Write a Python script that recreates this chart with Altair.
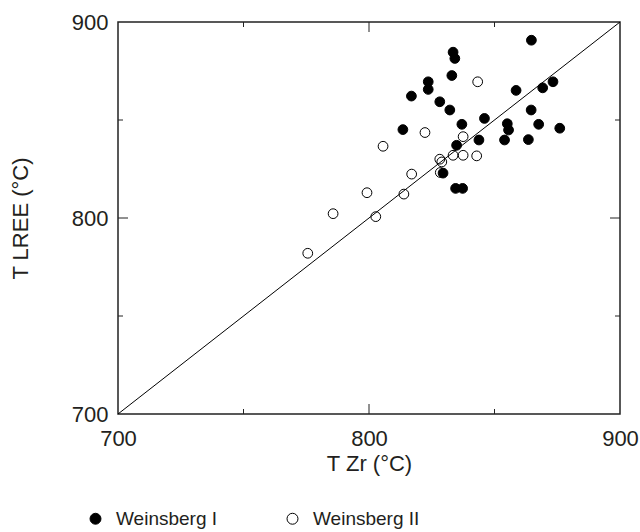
import altair as alt
import pandas as pd

# Weinsberg I (filled)
w1_x = [864.7, 833.5, 834.2, 833.0, 823.6, 823.6, 816.9, 828.2, 832.2, 858.6,
        869.2, 873.3, 864.6, 846.0, 837.0, 855.1, 855.6, 867.6, 876.0, 813.5,
        843.8, 854.0, 863.5, 834.9, 829.5, 834.5, 837.3]
w1_y = [890.7, 884.6, 881.4, 872.7, 869.5, 865.6, 862.2, 859.3, 855.1, 865.1,
        866.4, 869.5, 855.1, 850.8, 847.8, 848.1, 844.9, 847.8, 845.8, 845.1,
        839.8, 839.8, 840.0, 837.1, 822.9, 815.1, 815.1]
# Weinsberg II (open)
w2_x = [843.3, 822.3, 805.6, 837.5, 833.5, 837.5, 842.9, 828.2, 829.0, 817.0,
        828.4, 799.2, 813.9, 785.7, 802.7, 775.6]
w2_y = [869.5, 843.6, 836.6, 841.5, 832.0, 832.0, 831.7, 830.0, 828.6, 822.4,
        823.2, 812.9, 812.2, 802.2, 800.7, 782.0]

series_names = ["Weinsberg I", "Weinsberg II"]
label_ticks = [700, 800, 900]
minor_ticks = [750, 850]
major_ticks = [800]
diag = [700, 900]

pts = pd.DataFrame({
    "TZr": w2_x + w1_x,
    "TLREE": w2_y + w1_y,
    "series": [series_names[1]] * len(w2_x) + [series_names[0]] * len(w1_x),
})
diag_df = pd.DataFrame({"TZr": diag, "TLREE": diag})
minor_df = pd.DataFrame({"TZr": minor_ticks, "TLREE": minor_ticks})
major_df = pd.DataFrame({"TZr": major_ticks, "TLREE": major_ticks})

FONT = "Liberation Sans"
TXT = "#231f20"
xscale = alt.Scale(domain=[700, 900], nice=False, zero=False)
yscale = alt.Scale(domain=[700, 900], nice=False, zero=False)
xaxis = alt.Axis(values=label_ticks, title="T Zr (°C)", labelPadding=14,
                 titlePadding=4, labelFlush=False, labelBound=False)
yaxis = alt.Axis(values=label_ticks, title="T LREE (°C)", labelPadding=10,
                 titlePadding=39, labelFlush=False, labelBound=False)
X = alt.X("TZr:Q", scale=xscale, axis=xaxis)
Y = alt.Y("TLREE:Q", scale=yscale, axis=yaxis)

line = alt.Chart(diag_df).mark_line(color="black", strokeWidth=1).encode(x=X, y=Y)

points = alt.Chart(pts).mark_point(
    shape="circle", size=95, stroke="black", strokeWidth=1, opacity=1
).encode(
    x=X, y=Y,
    fill=alt.Fill("series:N",
                  scale=alt.Scale(domain=series_names, range=["black", "transparent"]),
                  legend=alt.Legend(orient="none", legendX=-32, legendY=487,
                                    direction="horizontal", title=None,
                                    labelFont=FONT, labelFontSize=19, labelColor=TXT,
                                    symbolType="circle", symbolSize=120,
                                    symbolStrokeColor="black", symbolStrokeWidth=1,
                                    labelOffset=11, columnPadding=65, padding=0)),
)

def rule_x(df, y1, y2):
    return alt.Chart(df).mark_rule(color="#222", strokeWidth=1).encode(
        x=X, y=alt.value(y1), y2=alt.value(y2))

def rule_y(df, x1, x2):
    return alt.Chart(df).mark_rule(color="#222", strokeWidth=1).encode(
        y=Y, x=alt.value(x1), x2=alt.value(x2))

ticks = [
    rule_x(minor_df, 392, 387), rule_x(major_df, 392, 382),
    rule_x(minor_df, 0, 5), rule_x(major_df, 0, 10),
    rule_y(minor_df, 0, 5), rule_y(major_df, 0, 10),
    rule_y(minor_df, 502, 497), rule_y(major_df, 502, 492),
]

chart = alt.layer(line, *ticks, points).properties(
    width=502, height=392,
    padding={"left": 118, "top": 22, "right": 20, "bottom": 118},
    autosize=alt.AutoSizeParams(type="none"),
    background="white",
).configure_view(
    stroke="#222", strokeWidth=1.5
).configure_axis(
    labelFont=FONT, titleFont=FONT, labelFontSize=22, titleFontSize=22,
    titleFontWeight="normal", labelColor=TXT, titleColor=TXT,
    domain=False, ticks=False, grid=False,
)

chart.save("out.html", embed_options={"renderer": "svg", "actions": False})
